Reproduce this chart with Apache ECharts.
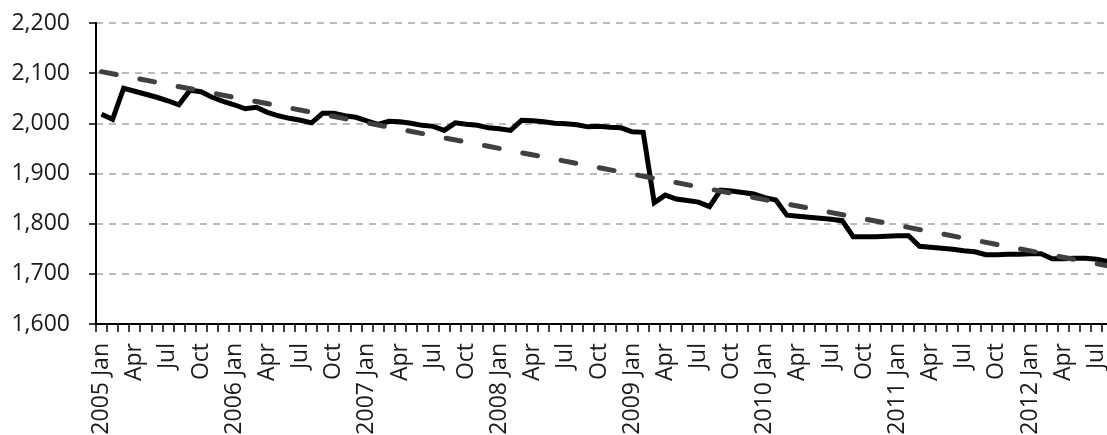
<!DOCTYPE html>
<html>
<head>
<meta charset="utf-8">
<title>Monthly series 2005–2012</title>
<script src="https://cdn.jsdelivr.net/npm/echarts@6/dist/echarts.min.js"></script>
<style>
  html, body { margin: 0; padding: 0; background: #ffffff; }
  #chart { width: 1107px; height: 435px; }
</style>
</head>
<body>
<div id="chart"></div>
<script>
// Axis labels: one category per month, Jan 2005 – Aug 2012
const years = [2005, 2006, 2007, 2008, 2009, 2010, 2011, 2012];
const monthNames = ['Jan', 'Feb', 'Mar', 'Apr', 'May', 'Jun', 'Jul', 'Aug', 'Sep', 'Oct', 'Nov', 'Dec'];
const monthCount = 92;

// Monthly values
const values = [
  2018, 2008, 2070, 2064, 2058, 2052, 2045, 2037, 2066, 2063, 2052, 2044,
  2037, 2029, 2032, 2022, 2015, 2010, 2006, 2001, 2020, 2020, 2015, 2012,
  2005, 1998, 2004, 2003, 2000, 1996, 1994, 1986, 2001, 1998, 1996, 1991,
  1989, 1986, 2006, 2005, 2003, 2000, 1999, 1997, 1993, 1994, 1992, 1991,
  1983, 1982, 1842, 1857, 1849, 1846, 1843, 1834, 1867, 1865, 1862, 1859,
  1852, 1847, 1817, 1815, 1813, 1811, 1809, 1806, 1774, 1774, 1774, 1775,
  1776, 1776, 1755, 1753, 1751, 1749, 1746, 1744, 1738, 1738, 1739, 1739,
  1740, 1740, 1730, 1730, 1731, 1731, 1729, 1725
];

// Linear trend: value at the first and at the last month
const trendStart = 2103;
const trendEnd = 1716;

// Y axis ticks
const yMin = 1600;
const yMax = 2200;
const yStep = 100;

const categories = [];
for (let i = 0; i < monthCount; i++) {
  const y = years[Math.floor(i / 12)];
  const m = monthNames[i % 12];
  categories.push(i % 12 === 0 ? y + ' ' + m : m);
}

const FONT = '"Open Sans", Lato, "DejaVu Sans", sans-serif';

const chart = echarts.init(document.getElementById('chart'), null, { renderer: 'canvas' });

chart.setOption({
  animation: false,
  backgroundColor: '#ffffff',
  grid: {
    left: 96, right: -6, top: 23, bottom: 111,
    containLabel: false,
    outerBoundsMode: 'none'
  },
  xAxis: {
    type: 'category',
    data: categories,
    boundaryGap: true,
    axisLine: { show: true, lineStyle: { color: '#000000', width: 2 } },
    axisTick: { show: true, interval: 0, length: 8, lineStyle: { color: '#000000', width: 1.5 } },
    axisLabel: {
      interval: 2,
      rotate: 90,
      margin: 19,
      color: '#1a1a1a',
      fontFamily: FONT,
      fontSize: 23
    },
    splitLine: { show: false }
  },
  yAxis: {
    type: 'value',
    min: yMin,
    max: yMax,
    interval: yStep,
    axisLine: { show: true, lineStyle: { color: '#000000', width: 2 } },
    axisTick: { show: true, length: 7, lineStyle: { color: '#000000', width: 1.5 } },
    axisLabel: {
      margin: 26,
      color: '#1a1a1a',
      fontFamily: FONT,
      fontSize: 23,
      formatter: v => v.toLocaleString('en-US')
    },
    splitLine: { show: true, lineStyle: { color: '#a6a6a6', width: 1.5, type: [7, 6] } }
  },
  series: [
    {
      name: 'Monthly',
      type: 'line',
      data: values,
      symbol: 'none',
      lineStyle: { color: '#000000', width: 5, join: 'miter' },
      z: 2
    },
    {
      name: 'Trend',
      type: 'line',
      data: [[0, trendStart], [monthCount - 1, trendEnd]],
      symbol: 'none',
      lineStyle: { color: '#404040', width: 5, type: [15, 24], cap: 'round' },
      z: 3
    }
  ]
});
</script>
</body>
</html>
